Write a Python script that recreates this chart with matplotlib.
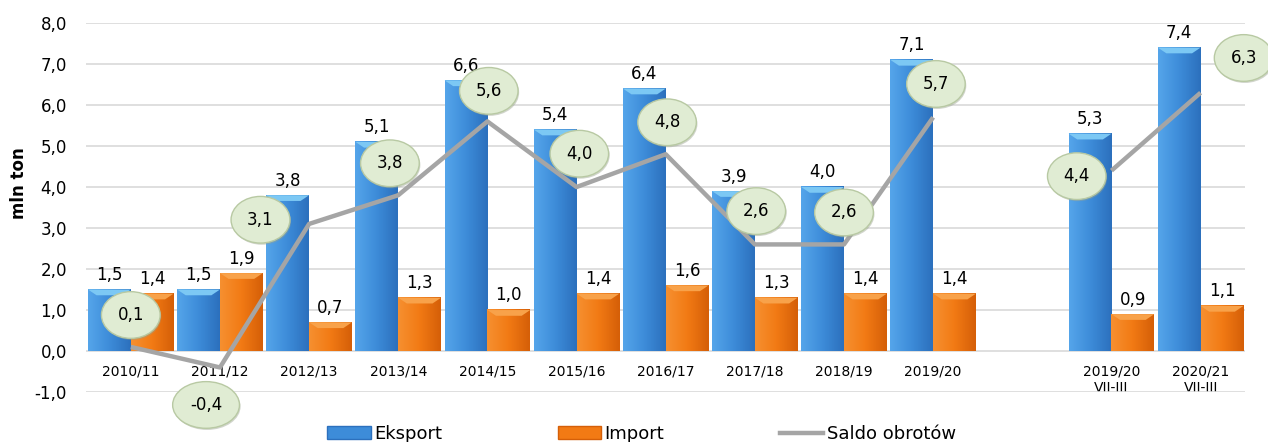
import numpy as np
import matplotlib
matplotlib.use("Agg")
import matplotlib.pyplot as plt
from matplotlib.colors import LinearSegmentedColormap
from matplotlib.patches import Patch
from matplotlib.lines import Line2D

categories = ["2010/11", "2011/12", "2012/13", "2013/14", "2014/15", "2015/16",
              "2016/17", "2017/18", "2018/19", "2019/20", "",
              "2019/20\nVII-III", "2020/21\nVII-III"]
eksport = [1.5, 1.5, 3.8, 5.1, 6.6, 5.4, 6.4, 3.9, 4.0, 7.1, np.nan, 5.3, 7.4]
import_ = [1.4, 1.9, 0.7, 1.3, 1.0, 1.4, 1.6, 1.3, 1.4, 1.4, np.nan, 0.9, 1.1]
saldo = [0.1, -0.4, 3.1, 3.8, 5.6, 4.0, 4.8, 2.6, 2.6, 5.7, np.nan, 4.4, 6.3]

# where the green balloons sit relative to the line point (points)
saldo_offsets = [(0, 23), (-10, -27), (-35, 3), (-6, 23), (1, 22), (2, 24),
                 (1, 23), (1, 24), (0, 23), (2, 24), None, (-25, -4), (31, 25)]

def fmt(v):
    return f"{v:.1f}".replace(".", ",")

blue_cmap = LinearSegmentedColormap.from_list("b", ["#55a5ea", "#3d8cd9", "#2c70bd"])
orange_cmap = LinearSegmentedColormap.from_list("o", ["#f69030", "#f27a14", "#d55f08"])

def shade_bars(ax, bars, cmap, top_color):
    grad = np.linspace(0, 1, 64).reshape(1, -1)
    for b in bars:
        x, y = b.get_xy()
        w, h = b.get_width(), b.get_height()
        if np.isnan(h) or h == 0:
            continue
        b.set_visible(False)
        ax.imshow(grad, extent=[x, x + w, y, y + h], aspect="auto",
                  cmap=cmap, zorder=2, interpolation="bicubic")
        # light bevel on top of the bar
        bev = 0.14
        ax.fill([x, x + w, x + w * 0.8, x + w * 0.2],
                [y + h, y + h, y + h - bev, y + h - bev],
                color=top_color, zorder=2.1, lw=0)

plt.rcParams["font.family"] = ["DejaVu Sans"]
fig = plt.figure(figsize=(12.68, 4.42), dpi=100)
ax = fig.add_axes([0.068, 0.113, 0.914, 0.835])

x = np.arange(len(categories))
w = 0.48
b1 = ax.bar(x - w / 2, eksport, w, color="#3d8cd9", zorder=2)
b2 = ax.bar(x + w / 2, import_, w, color="#f27a14", zorder=2)
shade_bars(ax, b1, blue_cmap, "#7cc8f4")
shade_bars(ax, b2, orange_cmap, "#f8a24a")

for xi, v in zip(x, eksport):
    if not np.isnan(v):
        ax.annotate(fmt(v), (xi - w / 2, v), xytext=(0, 4), textcoords="offset points",
                    ha="center", va="bottom", fontsize=12, zorder=5)
for xi, v in zip(x, import_):
    if not np.isnan(v):
        ax.annotate(fmt(v), (xi + w / 2, v), xytext=(0, 4), textcoords="offset points",
                    ha="center", va="bottom", fontsize=12, zorder=5)

ax.plot(x, saldo, color="#a5a5a5", lw=3.2, zorder=3, solid_capstyle="butt")

for xi, v, off in zip(x, saldo, saldo_offsets):
    if np.isnan(v):
        continue
    # soft shadow under the balloon
    ax.annotate(fmt(v), (xi, v), xytext=(off[0] + 0.8, off[1] - 1.2), textcoords="offset points",
                ha="center", va="center", fontsize=12, zorder=5.9, color="none",
                annotation_clip=False,
                bbox=dict(boxstyle="ellipse,pad=0.45", fc="#9aa38f", ec="none", alpha=0.45))
    ax.annotate(fmt(v), (xi, v), xytext=off, textcoords="offset points",
                ha="center", va="center", fontsize=12, zorder=6,
                annotation_clip=False,
                bbox=dict(boxstyle="ellipse,pad=0.45", fc="#e0ecd3", ec="#b8c9a3", lw=1.0))

ax.set_xlim(-0.5, len(categories) - 0.5)
ax.set_ylim(-1, 8)
ax.set_yticks(np.arange(-1, 9, 1))
ax.set_yticklabels([fmt(v) for v in np.arange(-1, 9, 1)], fontsize=12)
ax.set_xticks(x)
ax.set_xticklabels(categories, fontsize=9.5, linespacing=0.95)
ax.spines["bottom"].set_position(("data", 0))
for s in ax.spines.values():
    s.set_visible(False)
ax.tick_params(axis="x", length=0, pad=10)
ax.tick_params(axis="y", length=0, pad=14)
ax.grid(axis="y", color="#d9d9d9", lw=1.2, zorder=0)
ax.set_axisbelow(True)
ax.set_ylabel("mln ton", fontsize=12, fontweight="bold")
ax.yaxis.set_label_coords(-0.050, 0.566)

handles = [Patch(facecolor="#3d8cd9", edgecolor="#2c70bd"),
           Patch(facecolor="#f27a14", edgecolor="#d55f08"),
           Line2D([0], [0], color="#a5a5a5", lw=3.2)]
fig.legend(handles, ["Eksport", "Import", "Saldo obrotów"], loc="center",
           bbox_to_anchor=(0.506, 0.018), ncol=3, frameon=False, fontsize=13,
           handlelength=2.4, handleheight=0.7, handletextpad=0.2, columnspacing=6.4)

fig.savefig("out.png", dpi=100)
